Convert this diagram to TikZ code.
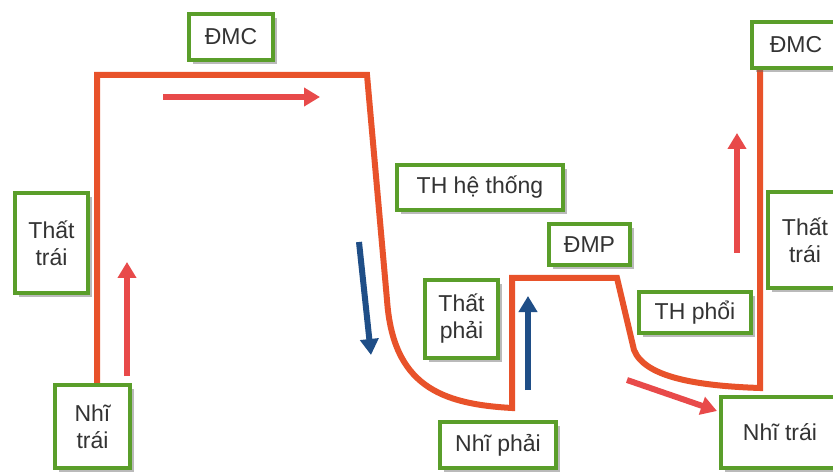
\documentclass[tikz,border=0pt]{standalone}
\usepackage{fontspec}
\setmainfont{Liberation Sans}
\usetikzlibrary{arrows.meta,shadows}
\definecolor{vessel}{HTML}{E8522A}
\definecolor{flowred}{HTML}{E84A4A}
\definecolor{flowblue}{HTML}{1F4E87}
\definecolor{boxgreen}{HTML}{5A9E2A}
\definecolor{labeltext}{HTML}{333333}
\tikzset{
  label box/.style={draw=boxgreen, line width=4pt, fill=white, inner sep=0pt,
    align=center, text=labeltext, font=\fontsize{23}{27}\selectfont,
    drop shadow={shadow xshift=4pt, shadow yshift=-4pt, opacity=0.45, fill=black!60}},
  vessel line/.style={draw=vessel, line width=6pt, line join=miter},
  flow/.style={line width=6pt, -{Triangle[width=18pt,length=16pt]}},
}
\begin{document}
\begin{tikzpicture}[x=1pt,y=-1pt]
\clip (0,0) rectangle (833,473);
\fill[white] (0,0) rectangle (833,473);

% circulation path
\coordinate (p0) at (97,383);
\draw[vessel line] (p0) -- (97,75) -- (367,75) -- (387,300)
  .. controls (393,385) and (440,404) .. (512,408)
  -- (512,278) -- (617,278) -- (634,350)
  .. controls (645,378) and (700,386) .. (760,388)
  -- (760,68);

% flow direction arrows
\coordinate (a1s) at (163,97);  \coordinate (a1e) at (320,97);
\coordinate (a2s) at (127,376); \coordinate (a2e) at (127,262);
\coordinate (b1s) at (359,242); \coordinate (b1e) at (371,355);
\coordinate (b2s) at (528,390); \coordinate (b2e) at (528,296);
\coordinate (a3s) at (627,380); \coordinate (a3e) at (717,411);
\coordinate (a4s) at (737,253); \coordinate (a4e) at (737,133);
\draw[flow, flowred] (a1s) -- (a1e);
\draw[flow, flowred] (a2s) -- (a2e);
\draw[flow, flowblue] (b1s) -- (b1e);
\draw[flow, flowblue] (b2s) -- (b2e);
\draw[flow, flowred] (a3s) -- (a3e);
\draw[flow, flowred] (a4s) -- (a4e);

% labels
\node[label box, minimum width=84pt, minimum height=46pt] (dmc1) at (231,37) {ĐMC};
\node[label box, minimum width=73pt, minimum height=100pt] (tt1) at (51.5,243) {Thất\\trái};
\node[label box, minimum width=75pt, minimum height=83pt] (nt1) at (92.5,426.5) {Nhĩ\\trái};
\node[label box, minimum width=166pt, minimum height=45pt] (thht) at (480,187.5) {TH hệ thống};
\node[label box, minimum width=81pt, minimum height=41pt] (dmp) at (589.5,244.5) {ĐMP};
\node[label box, minimum width=73pt, minimum height=78pt] (tp) at (461.5,319) {Thất\\phải};
\node[label box, minimum width=116pt, minimum height=46pt] (np) at (498,445) {Nhĩ phải};
\node[label box, minimum width=112pt, minimum height=41pt] (thp) at (695,312.5) {TH phổi};
\node[label box, minimum width=74pt, minimum height=96pt] (tt2) at (805,240) {Thất\\trái};
\node[label box, minimum width=118pt, minimum height=71pt] (nt2) at (780,432.5) {Nhĩ trái};
\node[label box, minimum width=88pt, minimum height=46pt] (dmc2) at (796,45) {ĐMC};
\end{tikzpicture}
\end{document}
